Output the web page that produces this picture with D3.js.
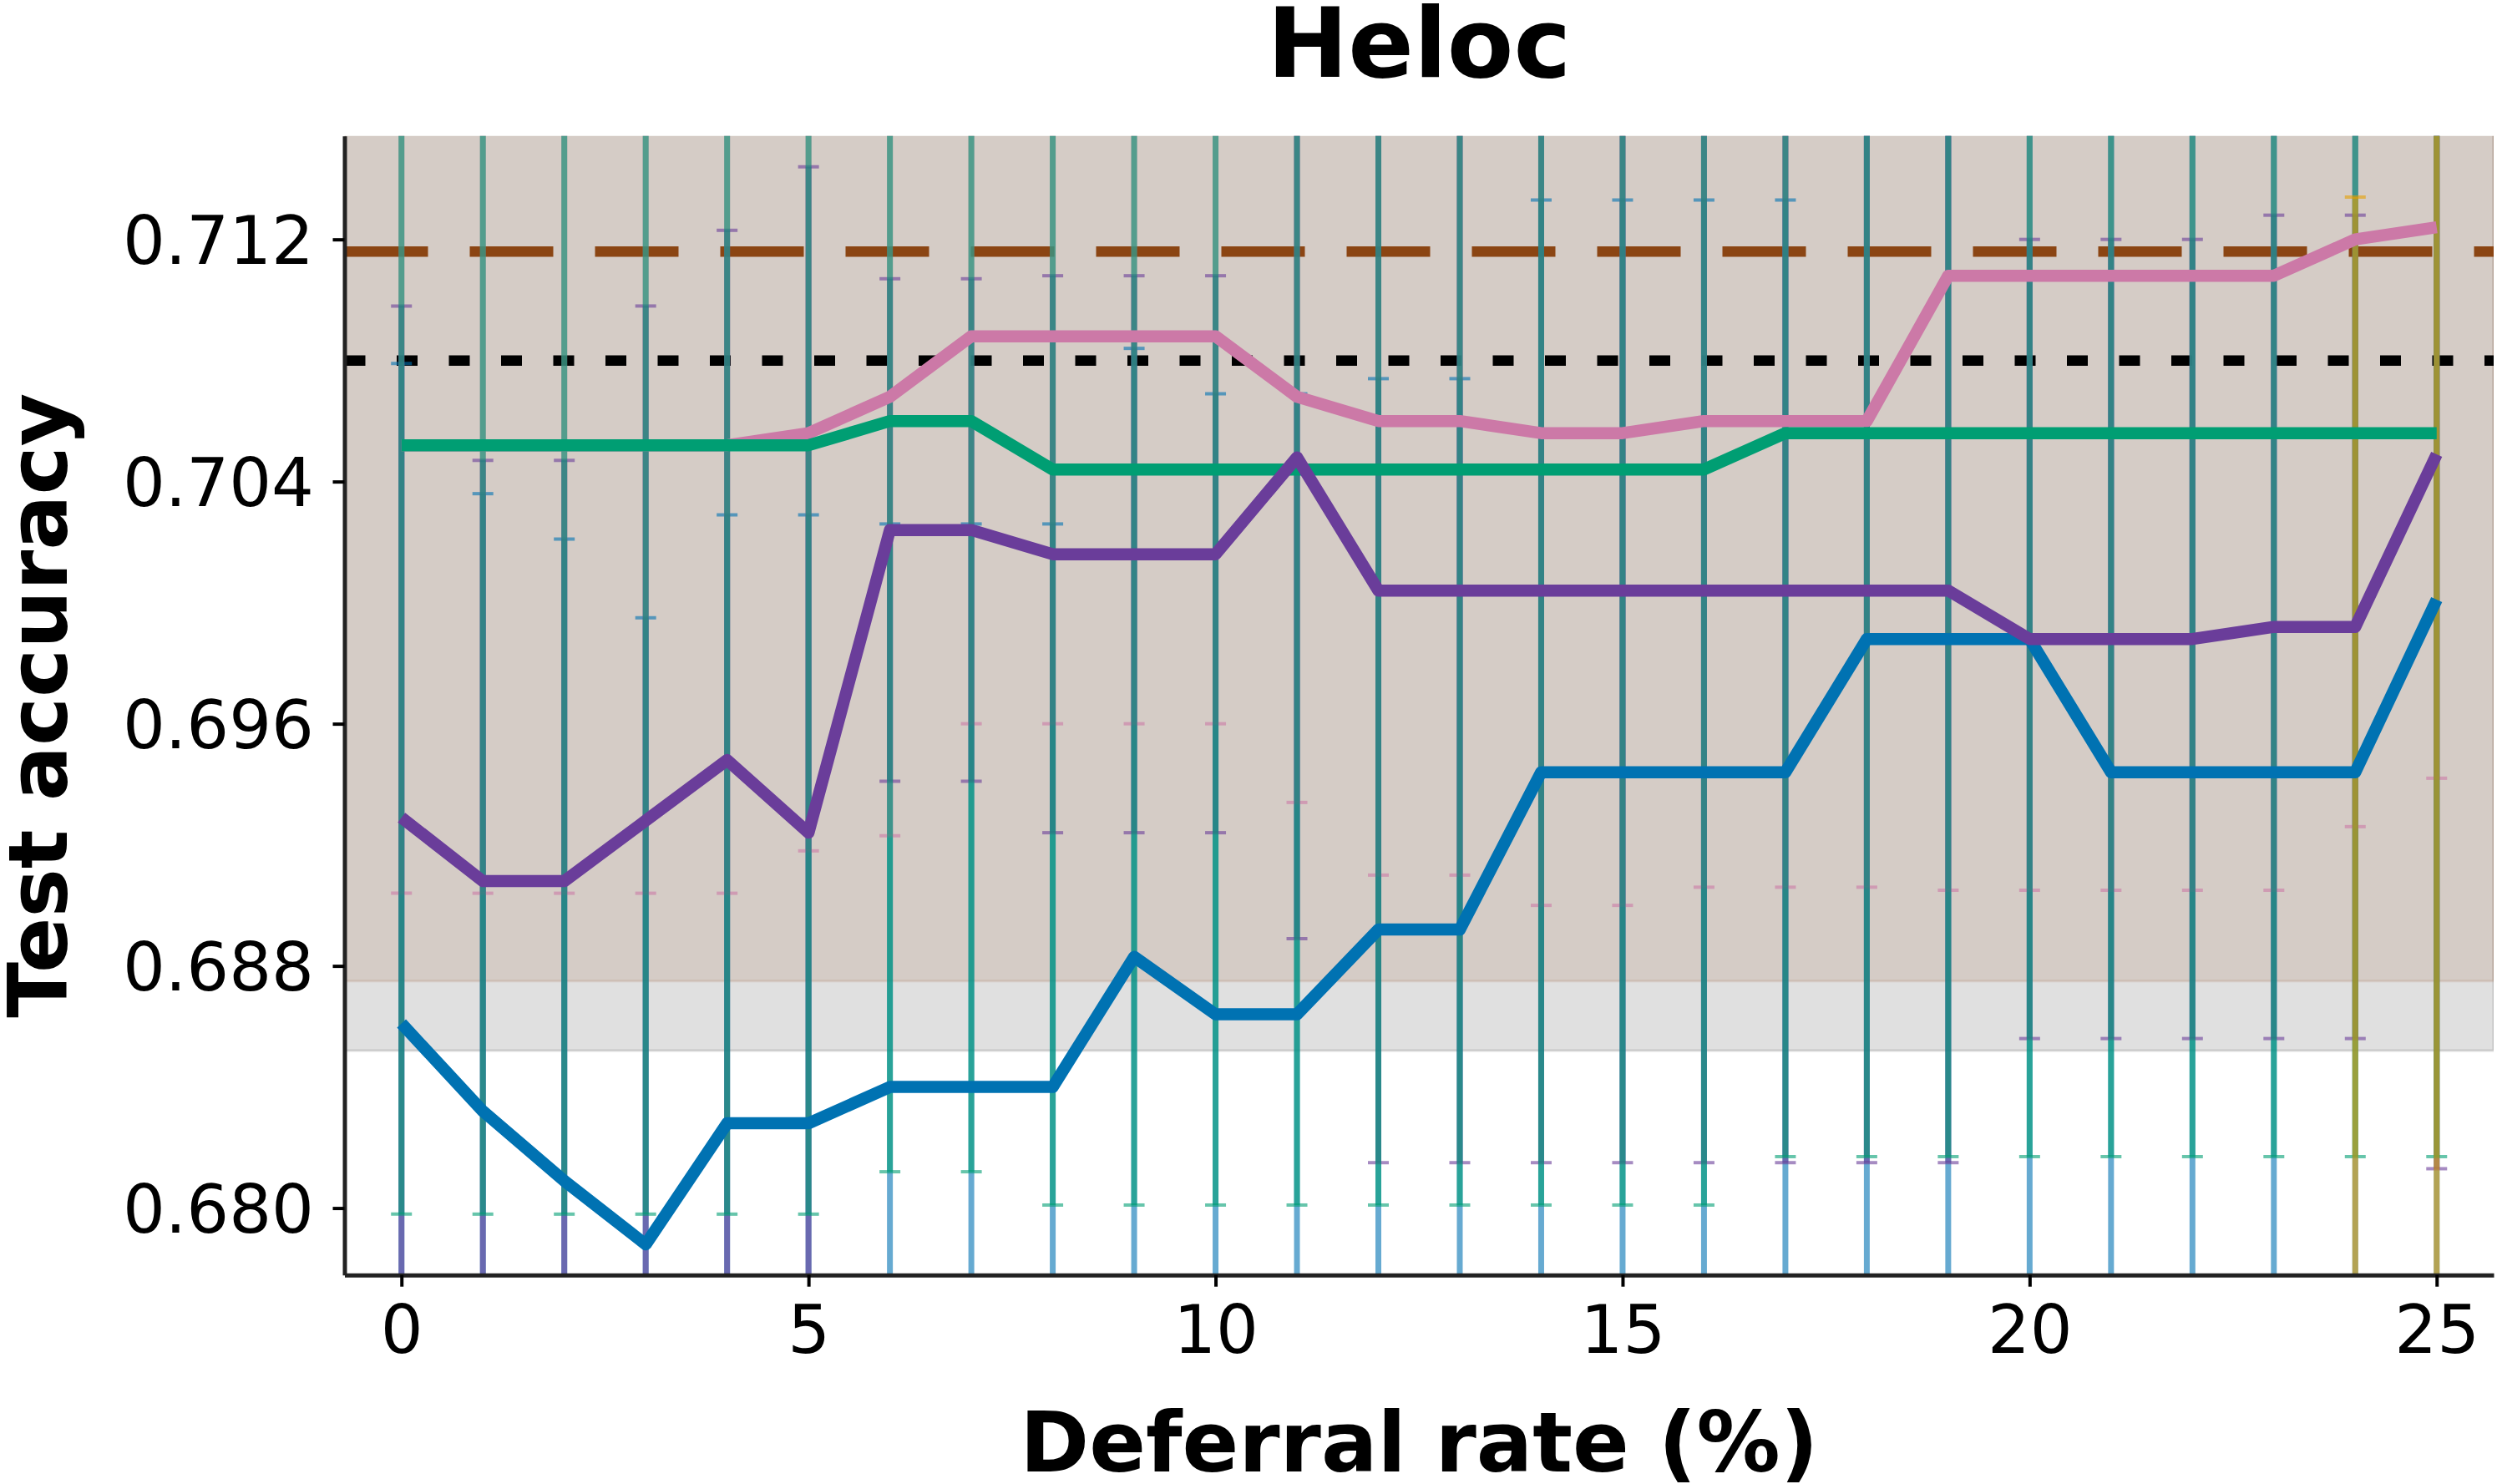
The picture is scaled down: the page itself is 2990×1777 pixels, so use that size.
<!DOCTYPE html>
<html>
<head>
<meta charset="utf-8">
<script src="https://cdn.jsdelivr.net/npm/d3@7/dist/d3.min.js"></script>
<style>
  body { margin: 0; background: #fff; }
  text { font-family: "DejaVu Sans", sans-serif; }
</style>
</head>
<body>
<div class="heloc-js"></div>
<script>
'use strict';

// Deferral rate (%)
var deferral = [0, 1, 2, 3, 4, 5, 6, 7, 8, 9, 10, 11, 12, 13, 14, 15, 16, 17, 18, 19, 20, 21, 22, 23, 24, 25];

// Test accuracy, mean and error bar half-width per method
var blueMean = [0.6861, 0.6832, 0.6809, 0.6788, 0.6828, 0.6828, 0.6840, 0.6840, 0.6840, 0.6883, 0.6864, 0.6864, 0.6892,
                0.6892, 0.6944, 0.6944, 0.6944, 0.6944, 0.6988, 0.6988, 0.6988, 0.6944, 0.6944, 0.6944, 0.6944, 0.7001];
var blueErr  = [0.0218, 0.0204, 0.0212, 0.0207, 0.0201, 0.0201, 0.0186, 0.0186, 0.0186, 0.0201, 0.0205, 0.0205, 0.0182,
                0.0182, 0.0189, 0.0189, 0.0189, 0.0189, 0.0220, 0.0220, 0.0220, 0.0220, 0.0220, 0.0220, 0.0220, 0.0235];

var purpleMean = [0.6929, 0.6908, 0.6908, 0.6928, 0.6948, 0.6924, 0.7024, 0.7024, 0.7016, 0.7016, 0.7016, 0.7048, 0.7004,
                  0.7004, 0.7004, 0.7004, 0.7004, 0.7004, 0.7004, 0.7004, 0.6988, 0.6988, 0.6988, 0.6992, 0.6992, 0.7049];
var purpleErr  = [0.0169, 0.0139, 0.0139, 0.0170, 0.0175, 0.0220, 0.0083, 0.0083, 0.0092, 0.0092, 0.0092, 0.0159, 0.0189,
                  0.0189, 0.0189, 0.0189, 0.0189, 0.0189, 0.0189, 0.0189, 0.0132, 0.0132, 0.0132, 0.0136, 0.0136, 0.0236];

var greenMean = [0.7052, 0.7052, 0.7052, 0.7052, 0.7052, 0.7052, 0.7060, 0.7060, 0.7044, 0.7044, 0.7044, 0.7044, 0.7044,
                 0.7044, 0.7044, 0.7044, 0.7044, 0.7056, 0.7056, 0.7056, 0.7056, 0.7056, 0.7056, 0.7056, 0.7056, 0.7056];
var greenErr  = [0.0254, 0.0254, 0.0254, 0.0254, 0.0254, 0.0254, 0.0248, 0.0248, 0.0243, 0.0243, 0.0243, 0.0243, 0.0243,
                 0.0243, 0.0243, 0.0243, 0.0243, 0.0239, 0.0239, 0.0239, 0.0239, 0.0239, 0.0239, 0.0239, 0.0239, 0.0239];

var pinkMean = [0.7052, 0.7052, 0.7052, 0.7052, 0.7052, 0.7056, 0.7068, 0.7088, 0.7088, 0.7088, 0.7088, 0.7068, 0.7060,
                0.7060, 0.7056, 0.7056, 0.7060, 0.7060, 0.7060, 0.7108, 0.7108, 0.7108, 0.7108, 0.7108, 0.7120, 0.7124];
var pinkErr  = [0.0148, 0.0148, 0.0148, 0.0148, 0.0148, 0.0138, 0.0145, 0.0128, 0.0128, 0.0128, 0.0128, 0.0134, 0.0150,
                0.0150, 0.0156, 0.0156, 0.0154, 0.0154, 0.0154, 0.0203, 0.0203, 0.0203, 0.0203, 0.0203, 0.0194, 0.0182];

// only reported at the two highest deferral rates
var orangeRate = [24, 25];
var orangeMean = [0.6640, 0.6700];
var orangeErr  = [0.0494, 0.0520];

// Reference levels (mean, std)
var brownRef = [0.7116, 0.0241];
var blackRef = [0.7080, 0.0228];

var xTicks = [0, 5, 10, 15, 20, 25];
var yTicks = [0.680, 0.688, 0.696, 0.704, 0.712];

var App = (function() {
function run() {

  var owidth = 2990;
  var oheight = 1777;
  var margin = {top: 162.7, right: 4, bottom: 250.3, left: 412.5};
  var cwidth = owidth - margin.left - margin.right;
  var cheight = oheight - margin.top - margin.bottom;

  var x = d3.scaleLinear().domain([-0.7, 25.7]).range([0, cwidth]);
  var y = d3.scaleLinear().domain([0.67779, 0.71542]).range([cheight, 0]);

  var svg = d3.select('.heloc-js').append('svg')
    .attr('width', owidth)
    .attr('height', oheight);

  svg.append('defs').append('clipPath').attr('id', 'plot-clip')
    .append('rect').attr('width', cwidth).attr('height', cheight);

  var chart = svg.append('g')
    .attr('transform', 'translate(' + margin.left + ',' + margin.top + ')');

  var plot = chart.append('g').attr('clip-path', 'url(#plot-clip)');

  // std bands of the two references
  [[blackRef, '#000'], [brownRef, '#8B4513']].forEach(function(r) {
    var top = y(r[0][0] + r[0][1]), bot = y(r[0][0] - r[0][1]);
    plot.append('rect')
      .attr('x', x(-0.7)).attr('width', x(25.7) - x(-0.7))
      .attr('y', top).attr('height', bot - top)
      .attr('fill', r[1]).attr('fill-opacity', 0.12)
      .attr('stroke', r[1]).attr('stroke-opacity', 0.12).attr('stroke-width', 3);
  });

  // reference lines
  plot.append('line')
    .attr('x1', x(-0.7)).attr('x2', x(25.7))
    .attr('y1', y(brownRef[0])).attr('y2', y(brownRef[0]))
    .attr('stroke', '#8B4513').attr('stroke-width', 12.5)
    .attr('stroke-dasharray', '100,50');
  plot.append('line')
    .attr('x1', x(-0.7)).attr('x2', x(25.7))
    .attr('y1', y(blackRef[0])).attr('y2', y(blackRef[0]))
    .attr('stroke', '#000').attr('stroke-width', 12.5)
    .attr('stroke-dasharray', '25,37.5');

  var series = [
    {xs: deferral, mean: blueMean, err: blueErr, color: '#0072B2'},
    {xs: deferral, mean: pinkMean, err: pinkErr, color: '#CC79A7'},
    {xs: deferral, mean: purpleMean, err: purpleErr, color: '#6A3D9A'},
    {xs: deferral, mean: greenMean, err: greenErr, color: '#009E73'},
    {xs: orangeRate, mean: orangeMean, err: orangeErr, color: '#E69F00'}
  ];

  // error bars
  series.forEach(function(s) {
    var g = plot.append('g');
    s.xs.forEach(function(d, i) {
      var lo = s.mean[i] - s.err[i], hi = s.mean[i] + s.err[i];
      g.append('line')
        .attr('x1', x(d)).attr('x2', x(d))
        .attr('y1', y(lo)).attr('y2', y(hi))
        .attr('stroke', s.color).attr('stroke-opacity', 0.6).attr('stroke-width', 7);
      [lo, hi].forEach(function(v) {
        g.append('line')
          .attr('x1', x(d) - 12.5).attr('x2', x(d) + 12.5)
          .attr('y1', y(v)).attr('y2', y(v))
          .attr('stroke', s.color).attr('stroke-opacity', 0.6).attr('stroke-width', 4);
      });
    });
  });

  // mean lines
  var line = d3.line()
    .x(function(d) { return x(d[0]); })
    .y(function(d) { return y(d[1]); });

  [series[0], series[1], series[3], series[2], series[4]].forEach(function(s) {
    plot.append('path')
      .datum(s.xs.map(function(d, i) { return [d, s.mean[i]]; }))
      .attr('fill', 'none')
      .attr('stroke', s.color)
      .attr('stroke-width', 14.5)
      .attr('stroke-linejoin', 'round')
      .attr('stroke-linecap', 'butt')
      .attr('d', line);
  });

  // axes
  var xAxis = d3.axisBottom(x)
    .tickValues(xTicks)
    .tickFormat(d3.format('d'))
    .tickSize(14)
    .tickSizeOuter(0)
    .tickPadding(22.5);
  var yAxis = d3.axisLeft(y)
    .tickValues(yTicks)
    .tickFormat(d3.format('.3f'))
    .tickSize(14)
    .tickSizeOuter(0)
    .tickPadding(22.5);

  var gx = chart.append('g')
    .attr('transform', 'translate(0,' + cheight + ')')
    .call(xAxis);
  var gy = chart.append('g')
    .call(yAxis);

  [gx, gy].forEach(function(g) {
    g.attr('font-size', null).attr('font-family', null);
    g.select('.domain').attr('stroke', '#222').attr('stroke-width', 5);
    g.selectAll('.tick line').attr('stroke', '#000').attr('stroke-width', 4);
    g.selectAll('.tick text').attr('fill', '#000').attr('font-size', 80);
  });
  gy.selectAll('.tick text').attr('dy', '0.36em');

  // titles
  svg.append('text')
    .attr('x', margin.left + cwidth / 2).attr('y', 92)
    .attr('text-anchor', 'middle')
    .attr('font-size', 116).attr('font-weight', 'bold')
    .text('Heloc');
  svg.append('text')
    .attr('x', margin.left + cwidth / 2).attr('y', 1762)
    .attr('text-anchor', 'middle')
    .attr('font-size', 100).attr('font-weight', 'bold')
    .text('Deferral rate (%)');
  svg.append('text')
    .attr('transform', 'translate(80,' + (margin.top + cheight / 2) + ') rotate(-90)')
    .attr('text-anchor', 'middle')
    .attr('font-size', 98).attr('font-weight', 'bold')
    .text('Test accuracy');
}

return { run : run };
}());
document.addEventListener('DOMContentLoaded', App.run);
</script>
</body>
</html>
